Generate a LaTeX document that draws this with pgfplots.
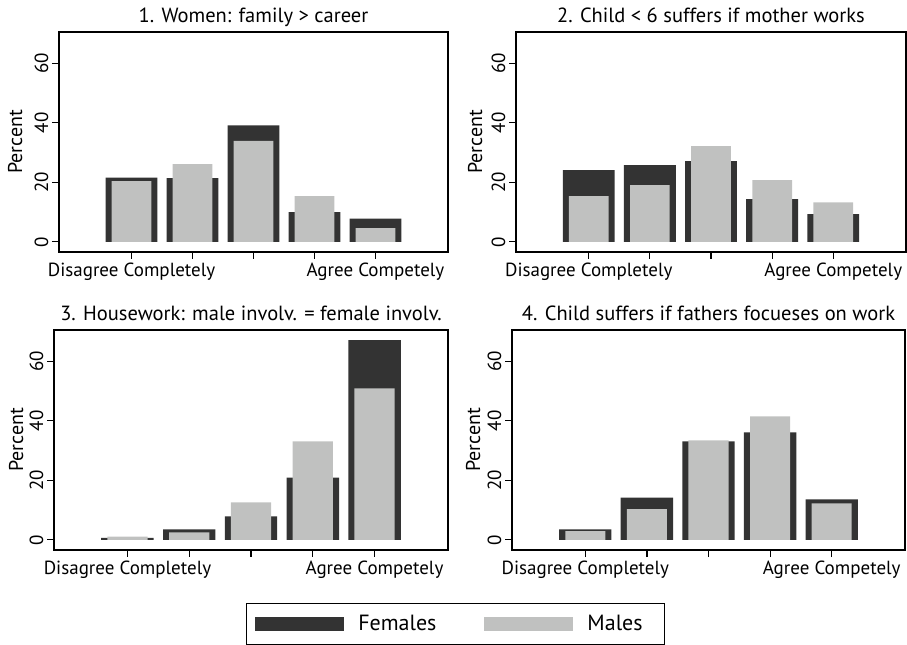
\documentclass[border=0pt]{standalone}
\usepackage{pgfplots}
\pgfplotsset{compat=1.18}
\usepackage{fontspec}
\setmainfont{PT Sans}
\definecolor{fem}{RGB}{51,51,51}
\definecolor{mal}{RGB}{192,193,192}
\pgfplotsset{
 panel/.style={
  scale only axis, height=220pt,
  xmin=-0.19, xmax=6.19, ymin=-3.4, ymax=70.5,
  xtick={1,2,3,4,5}, xticklabels={Disagree Completely,,,,Agree Competely},
  ytick={0,20,40,60},
  tick align=outside, major tick length=7pt,
  tick style={black, line width=1.2pt},
  axis line style={line width=1.5pt},
  xtick pos=left, ytick pos=left,
  yticklabel style={rotate=90, anchor=south, font=\fontsize{19}{22}\selectfont},
  xticklabel style={font=\fontsize{19}{22}\selectfont},
  /pgf/number format/assume math mode=true,
  ylabel={Percent},
  title style={at={(0.5,1)}, anchor=base, yshift=3pt, inner sep=0pt, font=\fontsize{20.5}{24}\selectfont},
  every axis plot/.append style={ybar, bar shift=0pt, draw=none},
 }}
\begin{document}
\begin{tikzpicture}[font=\fontsize{20}{24}\selectfont]
\path (0pt,0pt) rectangle (907pt,644pt);
% Panel 1
\begin{axis}[panel, at={(59pt,392pt)}, anchor=south west, width=389pt,
  title={1. Women: family > career},
  ylabel style={at={(axis description cs:-0.113,0.5)}, anchor=center}]
\addplot[fill=fem, bar width=0.85] coordinates {(1,21.6) (2,21.4) (3,39.1) (4,10.0) (5,7.85)};
\addplot[fill=mal, bar width=0.65] coordinates {(1,20.4) (2,26.1) (3,33.9) (4,15.4) (5,4.6)};
\end{axis}
% Panel 2
\begin{axis}[panel, at={(516pt,392pt)}, anchor=south west, width=390pt,
  title={2. Child < 6 suffers if mother works},
  ylabel style={at={(axis description cs:-0.105,0.5)}, anchor=center}]
\addplot[fill=fem, bar width=0.85] coordinates {(1,24.1) (2,25.8) (3,27.1) (4,14.4) (5,9.3)};
\addplot[fill=mal, bar width=0.65] coordinates {(1,15.4) (2,19.1) (3,32.2) (4,20.7) (5,13.3)};
\end{axis}
% Panel 3
\begin{axis}[panel, at={(54pt,94pt)}, anchor=south west, width=394pt,
  title={3. Housework: male involv. = female involv.},
  ylabel style={at={(axis description cs:-0.096,0.5)}, anchor=center}]
\addplot[fill=fem, bar width=0.85] coordinates {(1,0.7) (2,3.5) (3,7.9) (4,20.9) (5,67.1)};
\addplot[fill=mal, bar width=0.65] coordinates {(1,1.1) (2,2.5) (3,12.6) (4,33.1) (5,50.9)};
\end{axis}
% Panel 4
\begin{axis}[panel, at={(512pt,94pt)}, anchor=south west, width=393pt,
  title={4. Child suffers if fathers focueses on work},
  ylabel style={at={(axis description cs:-0.099,0.5)}, anchor=center},
  legend columns=2,
  legend style={at={(axis description cs:-0.1438,-0.241)}, anchor=north,
    draw=black, line width=0.8pt, inner xsep=9pt, inner ysep=12pt,
    font=\fontsize{22}{26}\selectfont,
    nodes={inner sep=0pt},
    /tikz/every odd column/.append style={column sep=14pt},
    /tikz/every even column/.append style={column sep=48pt}}]
\addplot[fill=fem, bar width=0.85, legend image code/.code={\fill[fem] (0pt,-7pt) rectangle (89pt,7pt);}] coordinates {(1,3.5) (2,14.2) (3,33.1) (4,36.1) (5,13.6)};
\addlegendentry{Females}
\addplot[fill=mal, bar width=0.65, legend image code/.code={\fill[mal] (0pt,-7pt) rectangle (89pt,7pt);}] coordinates {(1,2.9) (2,10.3) (3,33.4) (4,41.5) (5,12.3)};
\addlegendentry{Males\rule{13pt}{0pt}}
\end{axis}
\end{tikzpicture}
\end{document}
